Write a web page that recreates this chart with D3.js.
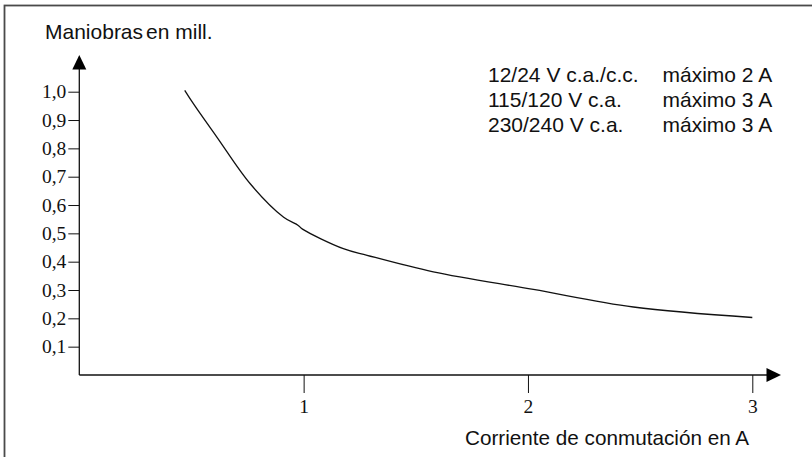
<!DOCTYPE html>
<html>
<head>
<meta charset="utf-8">
<script src="https://cdn.jsdelivr.net/npm/d3@7"></script>
<style>
  body { margin: 0; background: #fff; }
  .sans { font-family: "Liberation Sans", Arial, sans-serif; }
  .serif { font-family: "Liberation Serif", "Times New Roman", serif; }
</style>
</head>
<body>
<svg id="chart" width="812" height="457"></svg>
<script>
// Curve values
const currentA = [0.47, 0.51, 0.614, 0.762, 0.911, 0.976, 0.995, 1.177, 1.283, 1.578, 2.024, 2.47, 3.0]
const opsMill  = [1.005, 0.956, 0.839, 0.675, 0.557, 0.528, 0.515, 0.446, 0.4225, 0.364, 0.302, 0.24, 0.203]

const yTicks = [0.1, 0.2, 0.3, 0.4, 0.5, 0.6, 0.7, 0.8, 0.9, 1.0]
const xTicks = [1, 2, 3]

const legendVoltage = ["12/24 V c.a./c.c.", "115/120 V c.a.", "230/240 V c.a."]
const legendMax = ["máximo 2 A", "máximo 3 A", "máximo 3 A"]

const svg = d3.select('#chart')

// frame
svg.append('rect')
  .attr('x', 4.5).attr('y', 5.5)
  .attr('width', 830).attr('height', 470)
  .attr('fill', 'none')
  .attr('stroke', '#4a4a4a')
  .attr('stroke-width', 1.8)

const origin = { x: 79.3, y: 375 }

// scales
const x = d3.scaleLinear().domain([0, 3]).range([origin.x, 752.3])
const y = d3.scaleLinear().domain([0, 1]).range([origin.y, 91.7])

// y axis
const yAxis = d3.axisLeft(y)
  .tickValues(yTicks)
  .tickSize(11)
  .tickPadding(2)
  .tickFormat(d => d3.format('.1f')(d).replace('.', ','))

const gy = svg.append('g')
  .attr('transform', `translate(${origin.x},0)`)
  .call(yAxis)
gy.select('.domain').remove()
gy.selectAll('.tick line').attr('stroke', '#111')
gy.selectAll('.tick text')
  .attr('class', 'serif')
  .attr('font-size', 19.5)
  .attr('fill', '#111')

// x axis
const xAxis = d3.axisBottom(x)
  .tickValues(xTicks)
  .tickSize(18)
  .tickPadding(6)
  .tickFormat(d3.format('d'))

const gx = svg.append('g')
  .attr('transform', `translate(0,${origin.y})`)
  .call(xAxis)
gx.select('.domain').remove()
gx.selectAll('.tick line').attr('stroke', '#111')
gx.selectAll('.tick text')
  .attr('class', 'serif')
  .attr('font-size', 19.5)
  .attr('fill', '#111')

// axis lines with arrow heads
svg.append('line')
  .attr('x1', origin.x).attr('y1', origin.y)
  .attr('x2', origin.x).attr('y2', 68)
  .attr('stroke', '#111').attr('stroke-width', 1.3)
svg.append('path')
  .attr('d', `M${origin.x},55 L${origin.x - 7},69.5 L${origin.x + 7},69.5 Z`)
  .attr('fill', '#000')

svg.append('line')
  .attr('x1', origin.x).attr('y1', origin.y)
  .attr('x2', 768).attr('y2', origin.y)
  .attr('stroke', '#111').attr('stroke-width', 1.3)
svg.append('path')
  .attr('d', `M781,${origin.y} L766.5,${origin.y - 7} L766.5,${origin.y + 7} Z`)
  .attr('fill', '#000')

// curve
const pts = currentA.map((c, i) => [c, opsMill[i]])
const line = d3.line()
  .x(d => x(d[0]))
  .y(d => y(d[1]))
  .curve(d3.curveCatmullRom.alpha(0.5))

svg.append('path')
  .datum(pts)
  .attr('d', line)
  .attr('fill', 'none')
  .attr('stroke', '#111')
  .attr('stroke-width', 1.3)

// axis titles ("Maniobras" and "en" sit close together in the original)
const ttl = svg.append('text')
  .attr('class', 'sans')
  .attr('x', 45).attr('y', 39)
  .attr('font-size', 21)
  .attr('fill', '#111')
ttl.append('tspan').text('Maniobras')
ttl.append('tspan').attr('dx', 3).text('en mill.')

svg.append('text')
  .attr('class', 'sans')
  .attr('x', 465).attr('y', 445)
  .attr('font-size', 20.7)
  .attr('fill', '#111')
  .text('Corriente de conmutación en A')

// legend text block
const leg = svg.append('g').attr('class', 'sans')
leg.selectAll('.volt').data(legendVoltage).enter()
  .append('text')
  .attr('class', 'volt')
  .attr('x', 488)
  .attr('y', (d, i) => 82 + i * 25)
  .attr('font-size', 21)
  .attr('fill', '#111')
  .text(d => d)
leg.selectAll('.max').data(legendMax).enter()
  .append('text')
  .attr('class', 'max')
  .attr('x', 662.5)
  .attr('y', (d, i) => 82 + i * 25)
  .attr('font-size', 21)
  .attr('fill', '#111')
  .text(d => d)
</script>
</body>
</html>
